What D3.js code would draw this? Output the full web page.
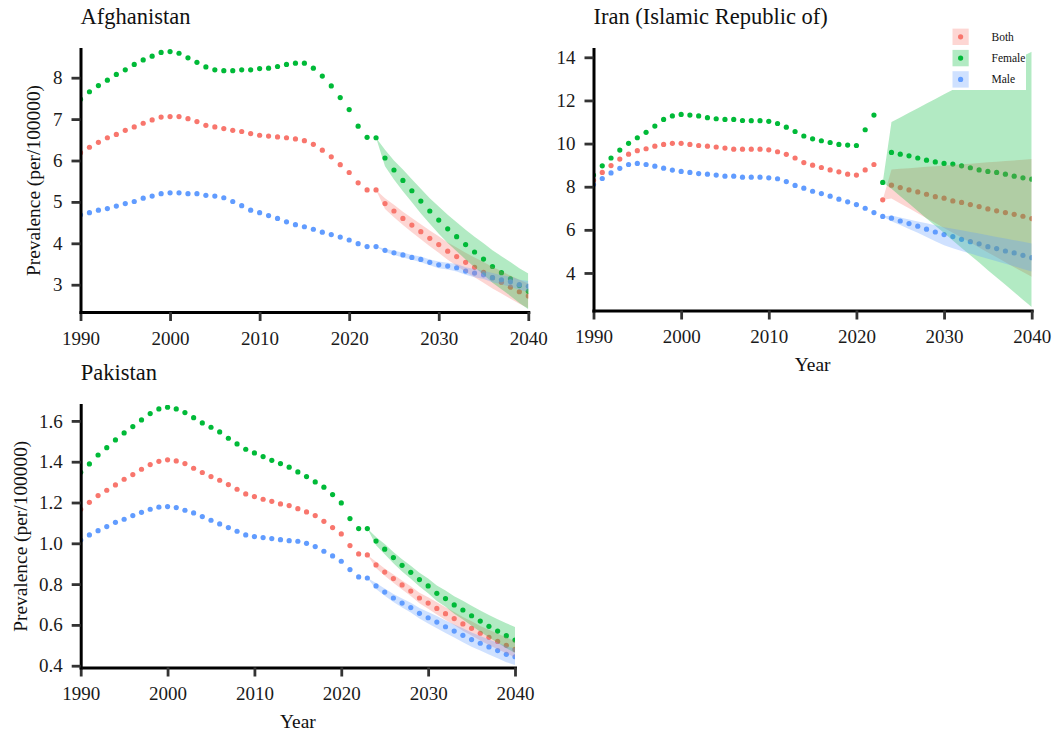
<!DOCTYPE html>
<html>
<head>
<meta charset="utf-8">
<script src="https://cdn.jsdelivr.net/npm/d3@7"></script>
<style>
  body { margin: 0; background: #fff; }
  svg text { font-family: "Liberation Serif", "Times New Roman", serif; }
</style>
</head>
<body>
<svg id="chart" width="1054" height="733"></svg>
<script>
// years shown on every panel, and the forecast years that carry a ribbon
var years = d3.range(1990, 2041);
var fcYears = d3.range(2023, 2041);
var sexes = ["Both", "Female", "Male"];
var colors = { Both: "#F8766D", Female: "#00BA38", Male: "#619CFF" };

// Afghanistan
var afgBoth = [6.19,6.32,6.44,6.55,6.63,6.73,6.81,6.90,6.98,7.05,7.06,7.06,7.01,6.94,6.85,6.81,6.77,6.73,6.70,6.65,
  6.61,6.59,6.57,6.55,6.52,6.48,6.39,6.25,6.09,5.90,5.71,5.46,5.29,5.29,4.96,4.78,4.60,4.44,4.28,4.12,
  3.97,3.81,3.68,3.54,3.42,3.30,3.17,3.06,2.94,2.83,2.73];
var afgFemale = [7.48,7.66,7.81,7.94,8.08,8.19,8.32,8.43,8.52,8.61,8.63,8.59,8.48,8.37,8.26,8.19,8.17,8.17,8.19,8.19,
  8.22,8.23,8.27,8.32,8.35,8.35,8.23,8.04,7.80,7.52,7.23,6.83,6.56,6.55,6.06,5.77,5.52,5.27,5.02,4.78,
  4.56,4.35,4.16,3.97,3.79,3.62,3.44,3.29,3.14,2.98,2.84];
var afgMale = [4.69,4.74,4.80,4.84,4.90,4.96,5.01,5.09,5.14,5.20,5.22,5.22,5.20,5.20,5.16,5.14,5.10,5.01,4.91,4.80,
  4.74,4.67,4.60,4.52,4.45,4.40,4.34,4.27,4.21,4.15,4.08,3.99,3.92,3.92,3.83,3.77,3.72,3.66,3.61,3.54,
  3.48,3.45,3.41,3.33,3.28,3.24,3.17,3.12,3.07,3.00,2.96];
var afgBothHi = [5.29,5.09,4.93,4.76,4.61,4.46,4.31,4.17,4.02,3.90,3.77,3.66,3.55,3.43,3.33,3.22,3.12,3.03];
var afgBothLo = [5.29,4.83,4.63,4.44,4.27,4.10,3.93,3.77,3.60,3.46,3.31,3.18,3.05,2.91,2.79,2.66,2.54,2.43];
var afgFemaleHi = [6.55,6.26,6.00,5.78,5.55,5.32,5.09,4.89,4.69,4.51,4.33,4.16,4.00,3.83,3.69,3.55,3.40,3.27];
var afgFemaleLo = [6.55,5.86,5.54,5.26,4.99,4.72,4.47,4.23,4.01,3.81,3.61,3.42,3.24,3.05,2.89,2.73,2.56,2.41];
var afgMaleHi = [3.92,3.87,3.82,3.78,3.72,3.68,3.61,3.56,3.53,3.50,3.42,3.38,3.34,3.28,3.23,3.19,3.12,3.09];
var afgMaleLo = [3.92,3.79,3.72,3.66,3.60,3.54,3.47,3.40,3.37,3.32,3.24,3.18,3.14,3.06,3.01,2.95,2.88,2.83];

// Iran (Islamic Republic of)
var irnBoth = [8.30,8.66,8.98,9.28,9.51,9.67,9.76,9.88,9.96,10.01,10.01,9.96,9.91,9.88,9.84,9.79,9.74,9.74,9.74,9.74,
  9.71,9.62,9.50,9.33,9.12,9.00,8.89,8.78,8.69,8.58,8.54,8.78,9.03,7.39,8.07,7.96,7.85,7.76,7.65,7.54,
  7.47,7.34,7.27,7.17,7.08,6.97,6.88,6.80,6.72,6.63,6.52];
var irnFemale = [8.54,8.97,9.33,9.70,10.01,10.27,10.52,10.81,11.12,11.28,11.35,11.32,11.28,11.20,11.15,11.12,11.12,11.07,11.06,11.06,
  11.03,10.93,10.76,10.56,10.35,10.22,10.13,10.05,9.96,9.93,9.91,10.64,11.32,8.20,9.59,9.51,9.43,9.33,9.23,9.15,
  9.08,9.05,8.97,8.88,8.78,8.71,8.66,8.58,8.49,8.41,8.35];
var irnMale = [8.10,8.38,8.64,8.85,9.03,9.08,9.03,8.95,8.86,8.77,8.71,8.66,8.61,8.58,8.54,8.49,8.49,8.44,8.44,8.44,
  8.41,8.37,8.24,8.06,7.93,7.79,7.68,7.56,7.42,7.30,7.17,7.00,6.80,6.62,6.54,6.41,6.29,6.17,6.03,5.90,
  5.78,5.69,5.56,5.45,5.35,5.22,5.13,5.02,4.93,4.82,4.71];
var irnBothHi = [7.39,8.80,8.83,8.86,8.89,8.92,8.95,8.98,9.01,9.04,9.07,9.10,9.13,9.16,9.19,9.22,9.25,9.28];
var irnBothLo = [7.39,7.45,7.22,7.00,6.77,6.54,6.32,6.09,5.86,5.64,5.41,5.18,4.95,4.73,4.50,4.27,4.05,3.82];
var irnFemaleHi = [8.20,11.00,11.21,11.43,11.64,11.86,12.07,12.29,12.50,12.70,12.89,13.08,13.28,13.47,13.67,13.86,14.06,14.26];
var irnFemaleLo = [8.20,7.90,7.56,7.22,6.87,6.53,6.19,5.85,5.50,5.16,4.82,4.48,4.13,3.79,3.45,3.11,2.76,2.42];
var irnMaleHi = [6.62,6.66,6.57,6.48,6.39,6.30,6.21,6.12,6.05,5.98,5.90,5.83,5.75,5.67,5.60,5.52,5.45,5.37];
var irnMaleLo = [6.62,6.40,6.23,6.04,5.86,5.67,5.47,5.28,5.15,5.02,4.90,4.78,4.66,4.54,4.43,4.31,4.19,4.07];

// Pakistan
var pakBoth = [1.167,1.201,1.234,1.260,1.286,1.314,1.337,1.363,1.386,1.402,1.409,1.404,1.391,1.368,1.347,1.327,1.309,1.288,1.265,1.242,
  1.229,1.216,1.206,1.193,1.185,1.170,1.154,1.136,1.108,1.077,1.046,0.989,0.948,0.943,0.894,0.859,0.827,0.796,0.766,0.732,
  0.707,0.681,0.655,0.631,0.605,0.583,0.559,0.539,0.519,0.500,0.480];
var pakFemale = [1.348,1.389,1.433,1.469,1.507,1.541,1.572,1.605,1.636,1.659,1.667,1.659,1.641,1.616,1.590,1.569,1.546,1.515,1.487,1.461,
  1.443,1.425,1.407,1.391,1.373,1.350,1.327,1.301,1.275,1.239,1.198,1.121,1.072,1.072,1.011,0.971,0.930,0.892,0.858,0.822,
  0.791,0.755,0.729,0.698,0.673,0.645,0.619,0.593,0.570,0.547,0.526];
var pakMale = [1.016,1.041,1.062,1.082,1.103,1.118,1.136,1.152,1.167,1.177,1.180,1.175,1.162,1.149,1.131,1.113,1.095,1.077,1.059,1.041,
  1.033,1.028,1.023,1.018,1.013,1.010,1.000,0.984,0.961,0.938,0.912,0.871,0.835,0.830,0.791,0.761,0.732,0.707,0.685,0.657,
  0.635,0.614,0.591,0.570,0.549,0.528,0.510,0.492,0.474,0.456,0.444];
var pakBothHi = [0.943,0.909,0.877,0.847,0.818,0.790,0.758,0.735,0.711,0.686,0.663,0.639,0.618,0.595,0.576,0.557,0.539,0.520];
var pakBothLo = [0.943,0.879,0.841,0.807,0.774,0.742,0.706,0.679,0.651,0.624,0.599,0.571,0.548,0.523,0.502,0.481,0.461,0.440];
var pakFemaleHi = [1.072,1.031,0.996,0.958,0.922,0.890,0.856,0.827,0.793,0.769,0.741,0.719,0.694,0.671,0.648,0.628,0.608,0.590];
var pakFemaleLo = [1.072,0.991,0.946,0.902,0.862,0.826,0.788,0.755,0.717,0.689,0.655,0.627,0.596,0.567,0.538,0.512,0.486,0.462];
var pakMaleHi = [0.830,0.806,0.779,0.752,0.729,0.709,0.683,0.663,0.644,0.622,0.602,0.583,0.563,0.546,0.529,0.512,0.495,0.484];
var pakMaleLo = [0.830,0.776,0.743,0.712,0.685,0.661,0.631,0.607,0.584,0.560,0.538,0.515,0.493,0.474,0.455,0.436,0.417,0.404];

var afgTicks = [3, 4, 5, 6, 7, 8];
var irnTicks = [4, 6, 8, 10, 12, 14];
var pakTicks = [0.4, 0.6, 0.8, 1.0, 1.2, 1.4, 1.6];
var xTicks = [1990, 2000, 2010, 2020, 2030, 2040];

var panels = [
  { id: "afg", title: "Afghanistan", left: 80.5, right: 528.3, top: 49, bottom: 312,
    yDomain: [2.341, 8.693], yTicks: afgTicks, fmt: d3.format("d"), yTitleX: 39.5, xTitle: false,
    pts: { Both: afgBoth, Female: afgFemale, Male: afgMale },
    hi: { Both: afgBothHi, Female: afgFemaleHi, Male: afgMaleHi },
    lo: { Both: afgBothLo, Female: afgFemaleLo, Male: afgMaleLo } },
  { id: "irn", title: "Iran (Islamic Republic of)", left: 593.5, right: 1031.7, top: 49, bottom: 310.5,
    yDomain: [2.26, 14.385], yTicks: irnTicks, fmt: d3.format("d"), yTitleX: null, xTitle: true,
    pts: { Both: irnBoth, Female: irnFemale, Male: irnMale },
    hi: { Both: irnBothHi, Female: irnFemaleHi, Male: irnMaleHi },
    lo: { Both: irnBothLo, Female: irnFemaleLo, Male: irnMaleLo } },
  { id: "pak", title: "Pakistan", left: 80.7, right: 515, top: 405, bottom: 667.5,
    yDomain: [0.3912, 1.678], yTicks: pakTicks, fmt: d3.format(".1f"), yTitleX: 26.5, xTitle: true,
    pts: { Both: pakBoth, Female: pakFemale, Male: pakMale },
    hi: { Both: pakBothHi, Female: pakFemaleHi, Male: pakMaleHi },
    lo: { Both: pakBothLo, Female: pakFemaleLo, Male: pakMaleLo } }
];

var svg = d3.select("#chart");
var defs = svg.append("defs");

panels.forEach(function (p) {
  var x = d3.scaleLinear().domain([1990, 2040]).range([p.left, p.right]);
  var y = d3.scaleLinear().domain(p.yDomain).range([p.bottom, p.top]);

  defs.append("clipPath").attr("id", "clip-" + p.id)
    .append("rect")
    .attr("x", p.left).attr("y", p.top)
    .attr("width", p.right - p.left).attr("height", p.bottom - p.top);

  var plot = svg.append("g").attr("clip-path", "url(#clip-" + p.id + ")");

  // points first
  sexes.forEach(function (s) {
    plot.append("g")
      .selectAll("circle")
      .data(p.pts[s])
      .enter()
      .append("circle")
      .attr("cx", function (d, i) { return x(years[i]); })
      .attr("cy", function (d) { return y(d); })
      .attr("r", 2.6)
      .attr("fill", colors[s]);
  });

  // prediction ribbons drawn over the points
  sexes.forEach(function (s) {
    var area = d3.area()
      .x(function (d, i) { return x(fcYears[i]); })
      .y0(function (d, i) { return y(p.lo[s][i]); })
      .y1(function (d) { return y(d); });
    plot.append("path")
      .datum(p.hi[s])
      .attr("fill", colors[s])
      .attr("fill-opacity", 0.3)
      .attr("d", area);
  });

  // axes
  var xAxis = d3.axisBottom(x).tickValues(xTicks).tickFormat(d3.format("d"))
    .tickSize(9).tickSizeOuter(0).tickPadding(10.5);
  var yAxis = d3.axisLeft(y).tickValues(p.yTicks).tickFormat(p.fmt)
    .tickSize(9).tickSizeOuter(0).tickPadding(9);

  [svg.append("g").attr("transform", "translate(0," + p.bottom + ")").call(xAxis),
   svg.append("g").attr("transform", "translate(" + p.left + ",0)").call(yAxis)]
  .forEach(function (g) {
    g.attr("font-family", "Liberation Serif, Times New Roman, serif").attr("font-size", 19);
    g.select(".domain").attr("stroke", "#000").attr("stroke-width", 3).attr("stroke-linecap", "square");
    g.selectAll(".tick line").attr("stroke", "#333").attr("stroke-width", 2.8);
    g.selectAll(".tick text").attr("fill", "#1a1a1a");
  });

  // panel title
  svg.append("text")
    .attr("x", p.left).attr("y", p.top - 25)
    .attr("font-size", 22.5).attr("fill", "#111")
    .text(p.title);

  if (p.yTitleX !== null) {
    svg.append("text")
      .attr("transform", "translate(" + p.yTitleX + "," + (p.top + p.bottom) / 2 + ") rotate(-90)")
      .attr("text-anchor", "middle")
      .attr("font-size", 19.4).attr("fill", "#111")
      .text("Prevalence (per/100000)");
  }
  if (p.xTitle) {
    svg.append("text")
      .attr("x", (p.left + p.right) / 2).attr("y", p.bottom + 60)
      .attr("text-anchor", "middle")
      .attr("font-size", 19.4).attr("fill", "#111")
      .text("Year");
  }
});

// legend, inside the Iran panel top-right
var legend = svg.append("g");
legend.append("rect")
  .attr("x", 946).attr("y", 25).attr("width", 80).attr("height", 65)
  .attr("fill", "#fff");
sexes.forEach(function (s, i) {
  var cy = 36.8 + i * 21.3;
  legend.append("rect")
    .attr("x", 952.5).attr("y", cy - 8.2).attr("width", 16.2).attr("height", 16.4)
    .attr("fill", colors[s]).attr("fill-opacity", 0.3);
  legend.append("circle")
    .attr("cx", 960.6).attr("cy", cy).attr("r", 2.6)
    .attr("fill", colors[s]);
  legend.append("text")
    .attr("x", 991.5).attr("y", cy + 4)
    .attr("font-size", 11.5).attr("fill", "#111")
    .text(s);
});
</script>
</body>
</html>
